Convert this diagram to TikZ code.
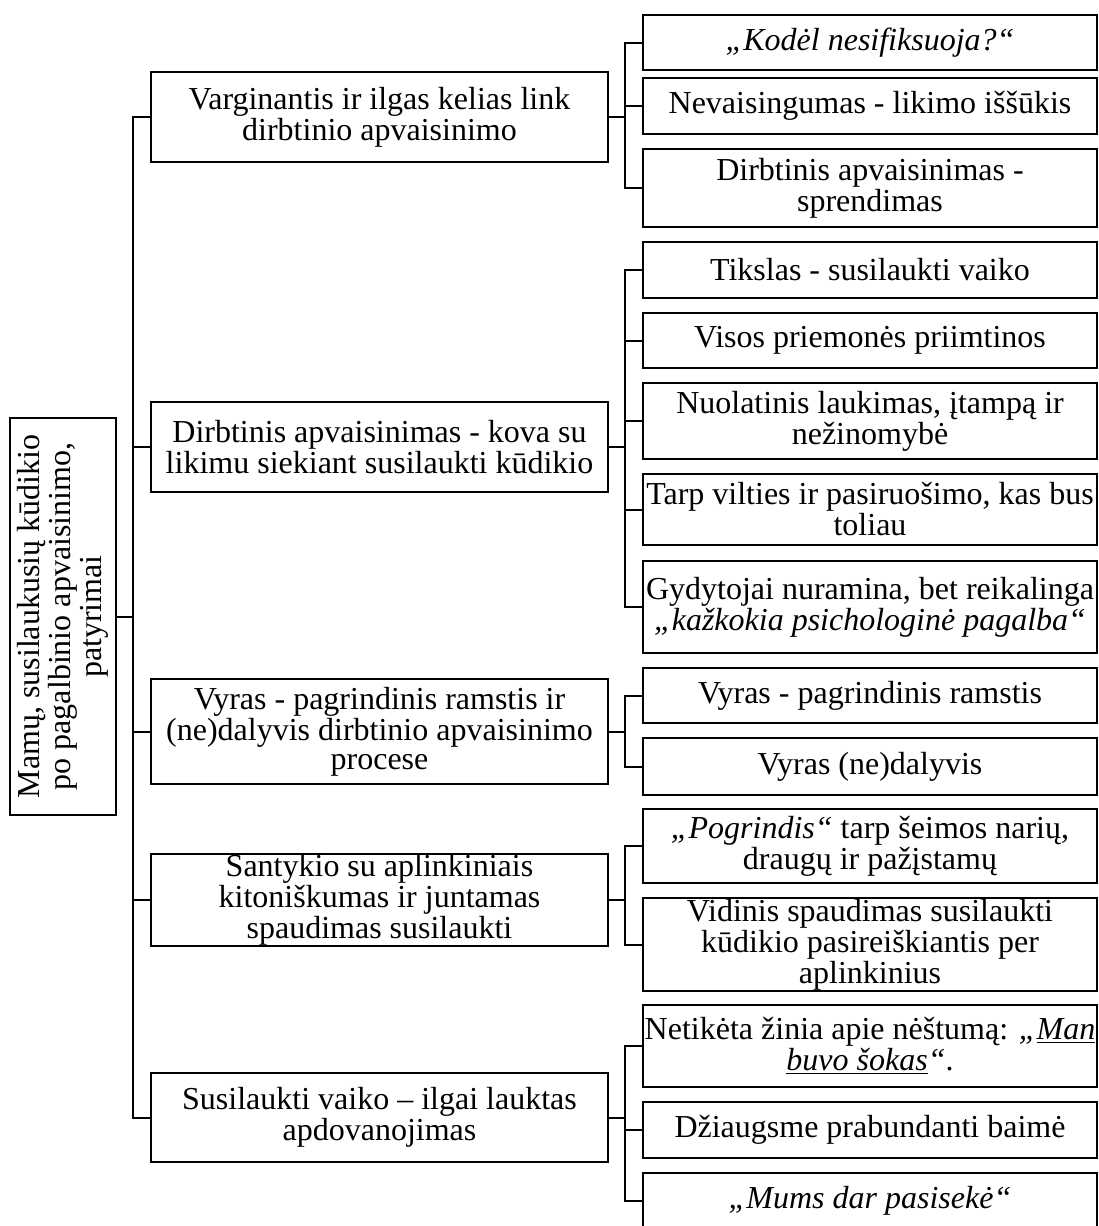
\documentclass[tikz,border=0pt]{standalone}
\usepackage{fontspec}
\setmainfont{Liberation Serif}
\tikzset{
  box/.style={draw, line width=1pt, inner sep=0pt, align=center, font=\fontsize{16pt}{14.5pt}\selectfont},
  conn/.style={line width=1pt, line join=miter},
}
\newcommand\mkbox[6]{\node[box, minimum width={(#4-#2)*0.5pt}, minimum height={(#5-#3)*0.5pt}] (#1) at ({(#2+#4)/2},{(#3+#5)/2}) {#6};}
\begin{document}
\begin{tikzpicture}[x=0.5pt,y=-0.5pt]
\useasboundingbox (0,0) rectangle (1098,1226);
% root
\mkbox{root}{10}{418}{116}{815}{\rotatebox{90}{\parbox{190pt}{\centering\fontsize{16pt}{15.5pt}\selectfont Mamų, susilaukusių kūdikio\\po pagalbinio apvaisinimo,\\patyrimai}}}
% middle level
\mkbox{m1}{151}{72}{608}{162}{Varginantis ir ilgas kelias link\\dirbtinio apvaisinimo}
\mkbox{m2}{151}{402}{608}{492}{Dirbtinis apvaisinimas - kova su\\likimu siekiant susilaukti kūdikio}
\mkbox{m3}{151}{679}{608}{784}{Vyras - pagrindinis ramstis ir\\(ne)dalyvis dirbtinio apvaisinimo\\procese}
\mkbox{m4}{151}{854}{608}{946}{Santykio su aplinkiniais\\kitoniškumas ir juntamas\\spaudimas susilaukti}
\mkbox{m5}{151}{1073}{608}{1162}{Susilaukti vaiko – ilgai lauktas\\apdovanojimas}
% right level
\mkbox{r11}{643}{15}{1097}{70}{\textit{„Kodėl nesifiksuoja?“}}
\mkbox{r12}{643}{78}{1097}{134}{Nevaisingumas - likimo iššūkis}
\mkbox{r13}{643}{149}{1097}{227}{Dirbtinis apvaisinimas -\\sprendimas}
\mkbox{r21}{643}{242}{1097}{298}{Tikslas - susilaukti vaiko}
\mkbox{r22}{643}{313}{1097}{368}{Visos priemonės priimtinos}
\mkbox{r23}{643}{383}{1097}{459}{Nuolatinis laukimas, įtampą ir\\nežinomybė}
\mkbox{r24}{643}{474}{1097}{545}{Tarp vilties ir pasiruošimo, kas bus\\toliau}
\mkbox{r25}{643}{561}{1097}{653}{Gydytojai nuramina, bet reikalinga\\\textit{„kažkokia psichologinė pagalba“}}
\mkbox{r31}{643}{668}{1097}{723}{Vyras - pagrindinis ramstis}
\mkbox{r32}{643}{738}{1097}{795}{Vyras (ne)dalyvis}
\mkbox{r41}{643}{809}{1097}{883}{\textit{„Pogrindis“} tarp šeimos narių,\\draugų ir pažįstamų}
\mkbox{r42}{643}{898}{1097}{991}{Vidinis spaudimas susilaukti\\kūdikio pasireiškiantis per\\aplinkinius}
\mkbox{r51}{643}{1005}{1097}{1087}{Netikėta žinia apie nėštumą: \textit{„\underline{Man}}\\\textit{\underline{buvo šokas}“}.}
\mkbox{r52}{643}{1102}{1097}{1158}{Džiaugsme prabundanti baimė}
\mkbox{r53}{643}{1173}{1097}{1228}{\textit{„Mums dar pasisekė“}}
% connectors
\coordinate (T) at (133,0);
\coordinate (B) at (625,0);
\draw[conn] (root.east) -- (root.east -| T);
\draw[conn] (m1.west) -- (m1.west -| T) -- (m5.west -| T) -- (m5.west);
\foreach \n in {m2,m3,m4} \draw[conn] (\n.west) -- (\n.west -| T);
% group 1
\draw[conn] (m1.east) -- (m1.east -| B);
\draw[conn] (r11.west) -- (r11.west -| B) -- (r13.west -| B) -- (r13.west);
\draw[conn] (r12.west) -- (r12.west -| B);
% group 2
\draw[conn] (m2.east) -- (m2.east -| B);
\draw[conn] (r21.west) -- (r21.west -| B) -- (r25.west -| B) -- (r25.west);
\foreach \n in {r22,r23,r24} \draw[conn] (\n.west) -- (\n.west -| B);
% group 3
\draw[conn] (m3.east) -- (m3.east -| B);
\draw[conn] (r31.west) -- (r31.west -| B) -- (r32.west -| B) -- (r32.west);
% group 4
\draw[conn] (m4.east) -- (m4.east -| B);
\draw[conn] (r41.west) -- (r41.west -| B) -- (r42.west -| B) -- (r42.west);
% group 5
\draw[conn] (m5.east) -- (m5.east -| B);
\draw[conn] (r51.west) -- (r51.west -| B) -- (r53.west -| B) -- (r53.west);
\draw[conn] (r52.west) -- (r52.west -| B);
\end{tikzpicture}
\end{document}
